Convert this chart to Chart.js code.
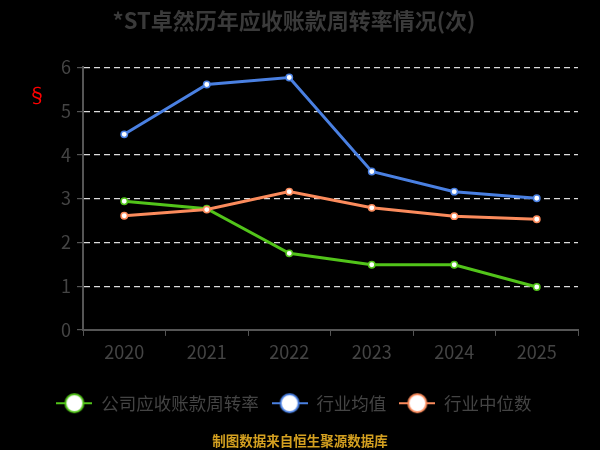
<html lang="zh">
<head>
    <meta charset="UTF-8">
    <title>*ST卓然历年应收账款周转率情况(次)</title>
    <script src="https://cdn.jsdelivr.net/npm/chart.js"></script>
    <style>
        body { margin: 0; background: #000; }
        #wrap { width: 600px; height: 450px; }
    </style>
</head>
<body>
    <div id="wrap"><canvas id="myChart" width="600" height="450"></canvas></div>

    <script>
        // data
        let years = ['2020', '2021', '2022', '2023', '2024', '2025'];
        let company = [2.94, 2.77, 1.75, 1.49, 1.49, 0.98];
        let industryAvg = [4.47, 5.61, 5.77, 3.62, 3.16, 3.01];
        let industryMedian = [2.61, 2.75, 3.16, 2.79, 2.60, 2.53];
        let seriesNames = ['公司应收账款周转率', '行业均值', '行业中位数'];
        let colors = ['#52c41a', '#4a80e2', '#fb8b5c'];

        let font = "'Noto Sans CJK SC', 'Noto Sans', sans-serif";

        // legend symbol: short line with a hollow circle in the middle
        function legendIcon(color) {
            let c = document.createElement('canvas');
            c.width = 36; c.height = 22;
            let g = c.getContext('2d');
            g.strokeStyle = color;
            g.lineWidth = 2;
            g.beginPath(); g.moveTo(0, 11); g.lineTo(36, 11); g.stroke();
            g.fillStyle = '#fff';
            g.beginPath(); g.arc(18, 11, 9, 0, Math.PI * 2); g.fill(); g.stroke();
            return c;
        }

        // footer text and the red mark next to the y axis
        let extraText = {
            id: 'extraText',
            afterDraw(chart) {
                let ctx = chart.ctx;
                ctx.save();
                ctx.textAlign = 'center';
                ctx.textBaseline = 'middle';
                ctx.fillStyle = '#d4a020';
                ctx.font = 'bold 13.5px ' + font;
                ctx.fillText('制图数据来自恒生聚源数据库', 300, 441);
                ctx.fillStyle = '#ff0000';
                ctx.font = '20px ' + font;
                ctx.fillText('§', 37, 95);
                ctx.restore();
            }
        };

        function makeSet(i, data) {
            return {
                label: seriesNames[i],
                data: data,
                borderColor: colors[i],
                backgroundColor: '#fff',
                borderWidth: 3,
                pointRadius: 3.2,
                pointBorderWidth: 1.5,
                pointBackgroundColor: '#fff',
                pointBorderColor: colors[i],
                tension: 0
            };
        }

        let ctx = document.getElementById('myChart').getContext('2d');
        let myChart = new Chart(ctx, {
            type: 'line',
            data: {
                labels: years,
                datasets: [
                    makeSet(1, industryAvg),
                    makeSet(2, industryMedian),
                    makeSet(0, company)
                ]
            },
            options: {
                responsive: false,
                animation: false,
                maintainAspectRatio: false,
                layout: { padding: { left: 10, right: 22, top: 0, bottom: 28 } },
                plugins: {
                    title: {
                        display: true,
                        text: '*ST卓然历年应收账款周转率情况(次)',
                        color: '#3a3a3a',
                        font: { family: font, size: 22, weight: 'bold' },
                        padding: { top: 7, bottom: 34 }
                    },
                    legend: {
                        position: 'bottom',
                        labels: {
                            usePointStyle: true,
                            pointStyleWidth: 36,
                            color: '#444',
                            font: { family: font, size: 17.5 },
                            padding: 13,
                            generateLabels: (chart) => {
                                let order = [2, 0, 1];
                                return order.map(di => {
                                    let ds = chart.data.datasets[di];
                                    return {
                                        text: ds.label,
                                        datasetIndex: di,
                                        pointStyle: legendIcon(ds.borderColor),
                                        fontColor: '#444',
                                        fillStyle: '#fff',
                                        strokeStyle: ds.borderColor,
                                        lineWidth: 0,
                                        hidden: !chart.isDatasetVisible(di)
                                    };
                                });
                            }
                        }
                    },
                    tooltip: { enabled: false }
                },
                scales: {
                    x: {
                        offset: true,
                        afterFit: (scale) => { scale.height += 14; },
                        grid: {
                            display: true,
                            drawOnChartArea: false,
                            drawTicks: true,
                            tickLength: 6,
                            color: '#555',
                            offset: true
                        },
                        border: { display: true, color: '#555', width: 2 },
                        ticks: { color: '#444', font: { family: font, size: 18 }, padding: 5 }
                    },
                    y: {
                        min: 0,
                        max: 6,
                        afterFit: (scale) => { scale.width = 73; },
                        ticks: { stepSize: 1, color: '#444', font: { family: font, size: 18 }, padding: 6 },
                        grid: {
                            color: '#ddd',
                            tickColor: '#555',
                            tickLength: 6,
                            lineWidth: 1.2
                        },
                        border: { display: true, color: '#555', width: 2, dash: [6, 4] }
                    }
                }
            },
            plugins: [extraText]
        });
    </script>
</body>
</html>
